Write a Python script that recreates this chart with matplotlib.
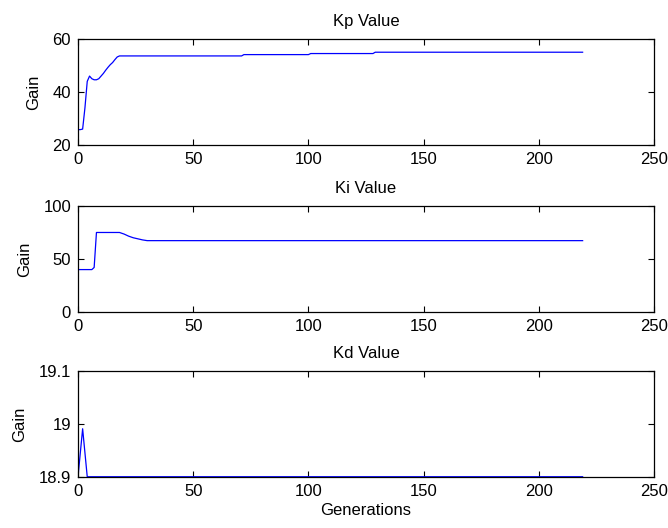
import matplotlib
matplotlib.use("Agg")
import matplotlib.pyplot as plt

plt.rcParams['font.family'] = ['Liberation Sans', 'DejaVu Sans']
plt.rcParams['font.size'] = 12

# Kp gain over generations
kp_gen = [0, 1, 2, 3, 4, 5, 6, 7, 8, 9, 10, 11, 12, 13, 14, 15, 16, 17, 18,
          71, 72, 100, 101, 128, 129, 219]
kp_val = [25.8, 25.8, 26.0, 34.0, 44.0, 46.0, 45.0, 44.6, 44.6, 45.0, 46.0,
          47.0, 48.2, 49.3, 50.3, 51.1, 52.2, 53.2, 53.6,
          53.6, 54.1, 54.1, 54.5, 54.5, 55.0, 55.0]

# Ki gain over generations
ki_gen = [0, 6, 7, 8, 18, 20, 22, 24, 26, 28, 30, 219]
ki_val = [40, 40, 42, 75, 75, 73.5, 71.5, 70, 69, 68, 67.3, 67.3]

# Kd gain over generations
kd_gen = [0, 2, 4, 219]
kd_val = [18.9005, 18.991, 18.9005, 18.9005]

titles = ["Kp Value", "Ki Value", "Kd Value"]
ylims = [(20, 60), (0, 100), (18.9, 19.1)]
yticks = [[20, 40, 60], [0, 50, 100], [18.9, 19.0, 19.1]]
yticklabels = [["20", "40", "60"], ["0", "50", "100"], ["18.9", "19", "19.1"]]
xticks = [0, 50, 100, 150, 200, 250]

fig = plt.figure(figsize=(6.68, 5.28), dpi=100)
bottoms = [0.7254, 0.4091, 0.0966]
series = [(kp_gen, kp_val), (ki_gen, ki_val), (kd_gen, kd_val)]

for i, (gen, val) in enumerate(series):
    ax = fig.add_axes([0.1168, bottoms[i], 0.8623, 0.2008])
    ax.plot(gen, val, color='#0000ff', linewidth=0.9)
    ax.set_xlim(0, 250)
    ax.set_ylim(*ylims[i])
    ax.set_xticks(xticks)
    ax.set_yticks(yticks[i])
    ax.set_yticklabels(yticklabels[i])
    ax.set_title(titles[i], fontsize=12, pad=9)
    ax.set_ylabel("Gain", labelpad=8)
    ax.tick_params(direction='in', length=4, width=0.8, top=True, right=True,
                   pad=5, labelsize=12)
    for s in ax.spines.values():
        s.set_linewidth(0.9)
    if i == 2:
        ax.set_xlabel("Generations", labelpad=3)

fig.savefig("out.png", dpi=100)
